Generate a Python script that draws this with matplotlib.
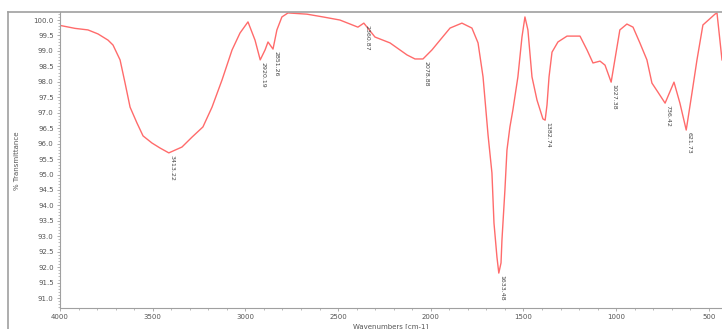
import numpy as np
import matplotlib.pyplot as plt
from matplotlib.lines import Line2D
from matplotlib.ticker import MultipleLocator, FormatStrFormatter

# FTIR spectrum, traced points (wavenumber cm-1, %T)
wavenumber = [3995, 3919, 3849, 3795, 3741, 3714, 3676, 3649, 3622, 3585,
              3552, 3504, 3461, 3413, 3342, 3288, 3229, 3180, 3126, 3072,
              3029, 2986, 2948, 2920, 2894, 2878, 2851, 2830, 2803, 2770,
              2668, 2581, 2490, 2393, 2361, 2301, 2220, 2128, 2085, 2042,
              1994, 1950, 1896, 1832, 1778, 1745, 1718, 1691, 1670, 1659,
              1643, 1633, 1621, 1616, 1600, 1589, 1573, 1557, 1530, 1508,
              1492, 1476, 1454, 1427, 1395, 1383, 1373, 1362, 1346, 1314,
              1265, 1195, 1157, 1125, 1087, 1060, 1027, 1007, 980, 942,
              909, 872, 834, 807, 775, 736, 688, 656, 622, 591,
              564, 532, 467, 456, 429]
transmittance = [99.82, 99.73, 99.68, 99.55, 99.35, 99.19, 98.71, 97.96, 97.18, 96.67,
                 96.25, 96.02, 95.86, 95.70, 95.89, 96.21, 96.54, 97.18, 98.06, 99.03,
                 99.58, 99.94, 99.35, 98.71, 99.03, 99.29, 99.06, 99.68, 100.10, 100.23,
                 100.19, 100.10, 100.00, 99.77, 99.90, 99.45, 99.26, 98.87, 98.74, 98.74,
                 99.03, 99.35, 99.74, 99.90, 99.74, 99.26, 98.16, 96.28, 95.05, 93.43,
                 92.33, 91.81, 92.14, 92.88, 94.50, 95.79, 96.54, 97.09, 98.16, 99.45,
                 100.10, 99.68, 98.16, 97.41, 96.80, 96.76, 97.25, 98.16, 98.96, 99.29,
                 99.48, 99.48, 99.03, 98.61, 98.67, 98.54, 97.99, 98.71, 99.68, 99.87,
                 99.77, 99.26, 98.71, 97.96, 97.67, 97.31, 97.99, 97.31, 96.44, 97.64,
                 98.71, 99.84, 100.19, 100.23, 98.71]

# peak picks
peak_labels = ['3413.22', '2920.19', '2851.26', '2360.87', '2078.88',
               '1633.48', '1382.74', '1027.38', '736.42', '621.73']
peak_x = [3413, 2920, 2851, 2361, 2042, 1633, 1383, 1027, 736, 622]
peak_y = [95.70, 98.71, 99.06, 99.90, 98.74, 91.81, 96.76, 97.99, 97.31, 96.44]

fig = plt.figure(figsize=(7.22, 3.29), dpi=100)
# outer frame (top and left edges)
fig.add_artist(Line2D([8 / 722, 8 / 722], [0, 317 / 329], transform=fig.transFigure,
                      color='#a0a0a0', linewidth=1.2))
fig.add_artist(Line2D([8 / 722, 1], [317 / 329, 317 / 329], transform=fig.transFigure,
                      color='#a0a0a0', linewidth=1.2))

ax = fig.add_axes([60 / 722, 21 / 329, 662 / 722, 296 / 329])
ax.plot(wavenumber, transmittance, color='#ff6b6b', linewidth=1.0)

for lab, px, py in zip(peak_labels, peak_x, peak_y):
    ax.annotate(lab, (px, py), xytext=(0.5, -1.5), textcoords='offset points',
                rotation=270, fontsize=4.5, color='#444444',
                ha='left', va='bottom', rotation_mode='anchor')

ax.set_xlim(4000, 429)
ax.set_ylim(90.68, 100.26)
ax.xaxis.set_major_locator(MultipleLocator(500))
ax.xaxis.set_minor_locator(MultipleLocator(100))
ax.yaxis.set_minor_locator(MultipleLocator(0.1))
ax.yaxis.set_major_formatter(FormatStrFormatter('%.1f'))
ax.set_yticks(np.arange(91.0, 100.01, 0.5))

for s in ['top', 'right']:
    ax.spines[s].set_visible(False)
for s in ['left', 'bottom']:
    ax.spines[s].set_color('#a0a0a0')
    ax.spines[s].set_linewidth(0.8)
ax.tick_params(which='both', colors='#a0a0a0', labelcolor='#555555',
               labelsize=5, direction='out', pad=2)
ax.tick_params(which='major', length=2.5, width=0.6)
ax.tick_params(which='minor', length=1.5, width=0.5)

ax.set_xlabel('Wavenumbers [cm-1]', fontsize=5, color='#555555', labelpad=2)
fig.text(17 / 722, 0.51, '% Transmittance', rotation=90, fontsize=5,
         color='#555555', ha='center', va='center')

fig.savefig('out.png', dpi=100)
